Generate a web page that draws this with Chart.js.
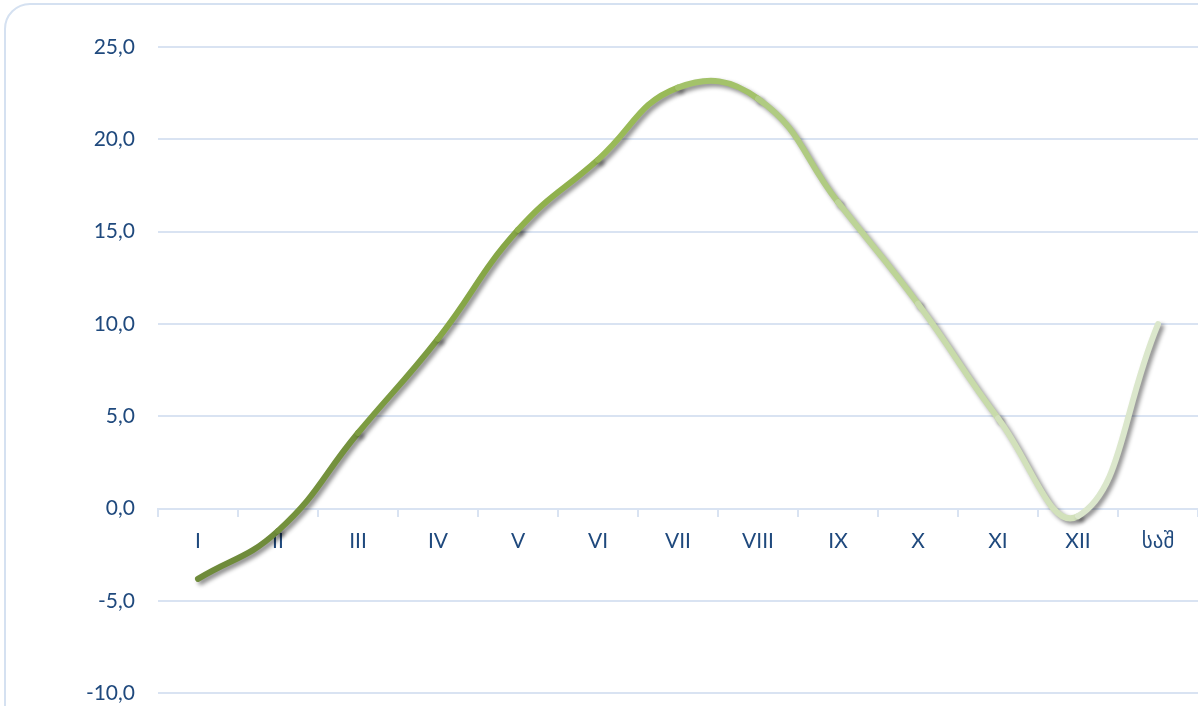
<!DOCTYPE html>
<html>
<head>
<meta charset="utf-8">
<script src="https://cdn.jsdelivr.net/npm/chart.js@4"></script>
<style>
  html, body { margin: 0; padding: 0; background: #fff; overflow: hidden; }
  #wrap { position: relative; width: 1198px; height: 706px; overflow: hidden; }
  #frame {
    position: absolute; left: 4px; top: 3px; width: 1300px; height: 800px;
    border: 2px solid #d5e1f1; border-radius: 26px; box-sizing: border-box;
  }
  #chart { position: absolute; left: 0; top: 0; }
</style>
</head>
<body>
<div id="wrap">
  <div id="frame"></div>
  <canvas id="chart" width="1198" height="729"></canvas>
</div>
<script>
// months + average (საშ)
const months = ['I', 'II', 'III', 'IV', 'V', 'VI', 'VII', 'VIII', 'IX', 'X', 'XI', 'XII', 'საშ'];
const temps = [-3.8, -1.2, 4.1, 9.2, 15.1, 18.9, 22.8, 22.2, 16.6, 11.1, 4.9, -0.4, 10.0];
const yTicks = [-10, -5, 0, 5, 10, 15, 20, 25];

// line goes from dark olive to pale green
const segColors = [
  '#6f8b3b', '#74913d', '#7c9b41', '#86a646', '#90b14d', '#99ba57',
  '#a3c26a', '#b0cb82', '#bdd497', '#c8dbaa', '#d2e1bb', '#dbe7cc'
];

const shadow = {
  id: 'shadow',
  beforeDatasetsDraw(chart) {
    const ctx = chart.ctx;
    ctx.save();
    ctx.shadowColor = 'rgba(0,0,0,0.45)';
    ctx.shadowBlur = 4;
    ctx.shadowOffsetX = 3;
    ctx.shadowOffsetY = 3;
  },
  afterDatasetsDraw(chart) {
    chart.ctx.restore();
  }
};

const textColor = '#1f497d';
const gridColor = '#d9e3f2';
const font = { family: 'Lato, "DejaVu Sans", sans-serif', size: 21 };

new Chart(document.getElementById('chart'), {
  type: 'line',
  data: {
    labels: months,
    datasets: [{
      data: temps,
      borderColor: segColors[0],
      borderWidth: 6,
      borderCapStyle: 'round',
      borderJoinStyle: 'round',
      tension: 0.45,
      pointRadius: 0,
      fill: false,
      segment: {
        borderColor: c => segColors[c.p0DataIndex]
      }
    }]
  },
  options: {
    responsive: false,
    animation: false,
    events: [],
    layout: { padding: { left: 0, right: 0, top: 47, bottom: 0 } },
    plugins: { legend: { display: false }, tooltip: { enabled: false } },
    scales: {
      x: {
        position: { y: 0 },
        offset: true,
        grid: { offset: true, drawOnChartArea: false, tickLength: 7, color: gridColor, lineWidth: 2 },
        border: { color: gridColor, width: 2 },
        ticks: { color: textColor, font: font, padding: 13, maxRotation: 0, autoSkip: false },
        afterFit: s => { s.height = 0; }
      },
      y: {
        min: -10,
        max: 25,
        afterBuildTicks: s => { s.ticks = yTicks.map(v => ({ value: v })); },
        grid: { color: gridColor, lineWidth: 2, drawTicks: false },
        border: { display: false },
        ticks: {
          color: textColor,
          font: font,
          padding: 23,
          callback: v => v.toFixed(1).replace('.', ',')
        },
        afterFit: s => { s.width = 158; }
      }
    }
  },
  plugins: [shadow]
});
</script>
</body>
</html>
